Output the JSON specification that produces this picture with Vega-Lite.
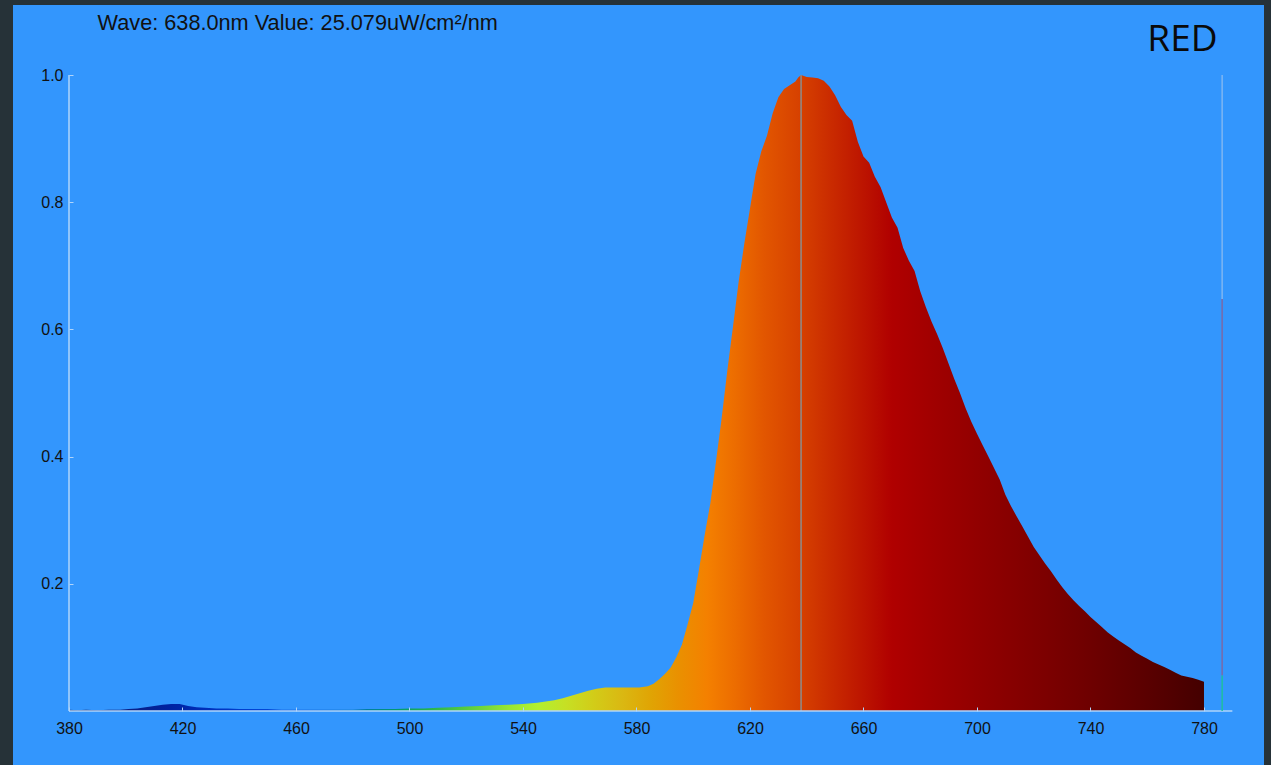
{
  "$schema": "https://vega.github.io/schema/vega-lite/v6.json",
  "width": 1251,
  "height": 760,
  "autosize": {"type": "none"},
  "padding": {"left": 13, "top": 5, "right": 7, "bottom": 0},
  "background": "#263238",
  "config": {
    "view": {"fill": "#3396fd", "stroke": null},
    "font": "Liberation Sans"
  },
  "data": {"values": [{}]},
  "datasets": {
    "spectrum": [
      {"wl": 380, "v": 0.002}, {"wl": 383, "v": 0.001}, {"wl": 386, "v": 0.002}, {"wl": 390, "v": 0.001},
      {"wl": 394, "v": 0.002}, {"wl": 398, "v": 0.002}, {"wl": 401, "v": 0.003}, {"wl": 404, "v": 0.004},
      {"wl": 407, "v": 0.006}, {"wl": 410, "v": 0.008}, {"wl": 413, "v": 0.010}, {"wl": 416, "v": 0.011},
      {"wl": 419, "v": 0.011}, {"wl": 422, "v": 0.008}, {"wl": 425, "v": 0.006}, {"wl": 428, "v": 0.005},
      {"wl": 432, "v": 0.004}, {"wl": 436, "v": 0.004}, {"wl": 440, "v": 0.003}, {"wl": 445, "v": 0.003},
      {"wl": 450, "v": 0.003}, {"wl": 455, "v": 0.002}, {"wl": 460, "v": 0.002}, {"wl": 465, "v": 0.002},
      {"wl": 470, "v": 0.002}, {"wl": 475, "v": 0.002}, {"wl": 480, "v": 0.002}, {"wl": 485, "v": 0.003},
      {"wl": 490, "v": 0.003}, {"wl": 495, "v": 0.003}, {"wl": 500, "v": 0.004}, {"wl": 505, "v": 0.004},
      {"wl": 510, "v": 0.005}, {"wl": 515, "v": 0.006}, {"wl": 520, "v": 0.007}, {"wl": 525, "v": 0.008},
      {"wl": 530, "v": 0.009}, {"wl": 535, "v": 0.010}, {"wl": 540, "v": 0.011}, {"wl": 545, "v": 0.013},
      {"wl": 548, "v": 0.015}, {"wl": 551, "v": 0.017}, {"wl": 554, "v": 0.020}, {"wl": 557, "v": 0.024},
      {"wl": 560, "v": 0.028}, {"wl": 563, "v": 0.032}, {"wl": 566, "v": 0.035}, {"wl": 569, "v": 0.037},
      {"wl": 572, "v": 0.037}, {"wl": 575, "v": 0.037}, {"wl": 578, "v": 0.037}, {"wl": 581, "v": 0.037},
      {"wl": 584, "v": 0.039}, {"wl": 586, "v": 0.043}, {"wl": 588, "v": 0.050}, {"wl": 590, "v": 0.058},
      {"wl": 592, "v": 0.068}, {"wl": 594, "v": 0.084}, {"wl": 596, "v": 0.104}, {"wl": 598, "v": 0.136},
      {"wl": 600, "v": 0.170}, {"wl": 602, "v": 0.222}, {"wl": 604, "v": 0.276}, {"wl": 606, "v": 0.326},
      {"wl": 608, "v": 0.392}, {"wl": 610, "v": 0.460}, {"wl": 612, "v": 0.535}, {"wl": 614, "v": 0.604},
      {"wl": 616, "v": 0.675}, {"wl": 618, "v": 0.735}, {"wl": 620, "v": 0.790}, {"wl": 622, "v": 0.845},
      {"wl": 624, "v": 0.880}, {"wl": 626, "v": 0.905}, {"wl": 628, "v": 0.940}, {"wl": 630, "v": 0.965},
      {"wl": 632, "v": 0.978}, {"wl": 634, "v": 0.984}, {"wl": 636, "v": 0.990}, {"wl": 637, "v": 0.996},
      {"wl": 638, "v": 1.000}, {"wl": 640, "v": 0.997}, {"wl": 642, "v": 0.996}, {"wl": 644, "v": 0.995},
      {"wl": 646, "v": 0.991}, {"wl": 648, "v": 0.982}, {"wl": 650, "v": 0.968}, {"wl": 652, "v": 0.950},
      {"wl": 654, "v": 0.937}, {"wl": 656, "v": 0.928}, {"wl": 658, "v": 0.895}, {"wl": 660, "v": 0.872},
      {"wl": 662, "v": 0.862}, {"wl": 664, "v": 0.840}, {"wl": 666, "v": 0.824}, {"wl": 668, "v": 0.800},
      {"wl": 670, "v": 0.776}, {"wl": 672, "v": 0.760}, {"wl": 674, "v": 0.728}, {"wl": 676, "v": 0.708},
      {"wl": 678, "v": 0.692}, {"wl": 680, "v": 0.660}, {"wl": 682, "v": 0.635}, {"wl": 684, "v": 0.612},
      {"wl": 686, "v": 0.592}, {"wl": 688, "v": 0.570}, {"wl": 690, "v": 0.546}, {"wl": 692, "v": 0.522},
      {"wl": 694, "v": 0.500}, {"wl": 696, "v": 0.476}, {"wl": 698, "v": 0.455}, {"wl": 700, "v": 0.436},
      {"wl": 702, "v": 0.418}, {"wl": 704, "v": 0.400}, {"wl": 706, "v": 0.382}, {"wl": 708, "v": 0.364},
      {"wl": 710, "v": 0.340}, {"wl": 712, "v": 0.322}, {"wl": 714, "v": 0.306}, {"wl": 716, "v": 0.290},
      {"wl": 718, "v": 0.274}, {"wl": 720, "v": 0.258}, {"wl": 722, "v": 0.245}, {"wl": 724, "v": 0.232},
      {"wl": 726, "v": 0.220}, {"wl": 728, "v": 0.207}, {"wl": 730, "v": 0.195}, {"wl": 732, "v": 0.184},
      {"wl": 734, "v": 0.174}, {"wl": 736, "v": 0.165}, {"wl": 738, "v": 0.157}, {"wl": 740, "v": 0.148},
      {"wl": 742, "v": 0.140}, {"wl": 744, "v": 0.132}, {"wl": 746, "v": 0.124}, {"wl": 748, "v": 0.117},
      {"wl": 750, "v": 0.111}, {"wl": 752, "v": 0.105}, {"wl": 754, "v": 0.099}, {"wl": 756, "v": 0.092},
      {"wl": 758, "v": 0.087}, {"wl": 760, "v": 0.082}, {"wl": 762, "v": 0.077}, {"wl": 764, "v": 0.073},
      {"wl": 766, "v": 0.069}, {"wl": 768, "v": 0.065}, {"wl": 770, "v": 0.060}, {"wl": 772, "v": 0.056},
      {"wl": 774, "v": 0.054}, {"wl": 776, "v": 0.052}, {"wl": 778, "v": 0.049}, {"wl": 780, "v": 0.046}
    ]
  },
  "layer": [
    {
      "data": {"name": "spectrum"},
      "mark": {
        "type": "area",
        "interpolate": "linear",
        "color": {
          "gradient": "linear",
          "x1": 0, "y1": 0, "x2": 1, "y2": 0,
          "stops": [
            {"offset": 0.0, "color": "#121c5a"},
            {"offset": 0.05, "color": "#0a1e82"},
            {"offset": 0.0875, "color": "#0022a0"},
            {"offset": 0.125, "color": "#0030bc"},
            {"offset": 0.1625, "color": "#0042d4"},
            {"offset": 0.2, "color": "#0652dc"},
            {"offset": 0.2375, "color": "#0066c4"},
            {"offset": 0.2625, "color": "#007ea0"},
            {"offset": 0.2875, "color": "#009870"},
            {"offset": 0.3125, "color": "#1eb050"},
            {"offset": 0.35, "color": "#58cc40"},
            {"offset": 0.3875, "color": "#98e634"},
            {"offset": 0.4125, "color": "#b2f030"},
            {"offset": 0.4375, "color": "#c6e024"},
            {"offset": 0.4625, "color": "#d2cc18"},
            {"offset": 0.4875, "color": "#dab812"},
            {"offset": 0.5125, "color": "#e0a404"},
            {"offset": 0.5375, "color": "#ea9000"},
            {"offset": 0.5625, "color": "#f48000"},
            {"offset": 0.5875, "color": "#ec6c00"},
            {"offset": 0.6125, "color": "#e25600"},
            {"offset": 0.645, "color": "#d64000"},
            {"offset": 0.675, "color": "#c82800"},
            {"offset": 0.7, "color": "#bc1400"},
            {"offset": 0.725, "color": "#b00000"},
            {"offset": 0.7625, "color": "#a00000"},
            {"offset": 0.8, "color": "#920000"},
            {"offset": 0.85, "color": "#800000"},
            {"offset": 0.9, "color": "#6e0000"},
            {"offset": 0.95, "color": "#5a0000"},
            {"offset": 1.0, "color": "#440000"}
          ]
        }
      },
      "encoding": {
        "x": {
          "field": "wl",
          "type": "quantitative",
          "scale": {"domain": [360.264, 801.15], "nice": false, "zero": false},
          "axis": {
            "orient": "bottom",
            "offset": -54,
            "values": [380, 420, 460, 500, 540, 580, 620, 660, 700, 740, 780],
            "domain": false,
            "grid": false,
            "tickSize": -4,
            "tickColor": "#b0d4fa",
            "tickWidth": 1,
            "labelPadding": 13,
            "labelFontSize": 16,
            "labelColor": "#111111",
            "labelFont": "Liberation Sans",
            "labelFlush": false,
            "zindex": 1,
            "title": null
          }
        },
        "y": {
          "field": "v",
          "type": "quantitative",
          "scale": {"domain": [-0.0849, 1.1101], "nice": false, "zero": false},
          "axis": {
            "orient": "left",
            "offset": -56,
            "values": [0.2, 0.4, 0.6, 0.8, 1.0],
            "format": ".1f",
            "domain": false,
            "grid": false,
            "tickSize": -4,
            "tickColor": "#b0d4fa",
            "tickWidth": 1,
            "labelPadding": 10,
            "labelFontSize": 16,
            "labelColor": "#111111",
            "labelFont": "Liberation Sans",
            "labelFlush": false,
            "zindex": 1,
            "title": null
          }
        },
        "y2": {"datum": 0}
      }
    },
    {
      "mark": {"type": "rule", "color": "#8c8c8c", "strokeWidth": 1.5},
      "encoding": {"x": {"datum": 638}, "y": {"datum": 0}, "y2": {"datum": 1}}
    },
    {
      "mark": {"type": "rule", "color": "#b0d4fa", "strokeWidth": 1.5},
      "encoding": {"x": {"datum": 380}, "x2": {"datum": 790}, "y": {"datum": 0}}
    },
    {
      "mark": {"type": "rule", "color": "#b0d4fa", "strokeWidth": 1.5},
      "encoding": {"x": {"datum": 380}, "y": {"datum": 0}, "y2": {"datum": 1}}
    },
    {
      "mark": {"type": "rule", "color": "#7fb6f2", "strokeWidth": 1.5},
      "encoding": {"x": {"datum": 786.4}, "y": {"datum": 0.648}, "y2": {"datum": 1}}
    },
    {
      "mark": {"type": "rule", "color": "#7a6aa8", "strokeWidth": 1.5},
      "encoding": {"x": {"datum": 786.4}, "y": {"datum": 0.056}, "y2": {"datum": 0.648}}
    },
    {
      "mark": {"type": "rule", "color": "#1fbfa0", "strokeWidth": 1.5},
      "encoding": {"x": {"datum": 786.4}, "y": {"datum": 0}, "y2": {"datum": 0.056}}
    },
    {
      "mark": {
        "type": "text",
        "text": "Wave: 638.0nm Value: 25.079uW/cm²/nm",
        "font": "Liberation Sans",
        "fontSize": 21.7,
        "color": "#111111",
        "align": "left",
        "baseline": "alphabetic"
      },
      "encoding": {"x": {"datum": 390.08}, "y": {"datum": 1.0708}}
    },
    {
      "mark": {
        "type": "text",
        "text": "RED",
        "font": "Open Sans",
        "fontSize": 37,
        "color": "#0a0a0a",
        "align": "center",
        "baseline": "alphabetic"
      },
      "encoding": {"x": {"datum": 772.4}, "y": {"datum": 1.0382}}
    }
  ]
}
